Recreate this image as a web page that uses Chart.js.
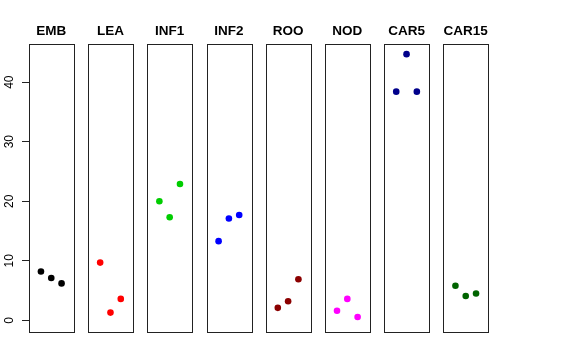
<!DOCTYPE html>
<html>
<head>
<meta charset="utf-8">
<script src="https://cdn.jsdelivr.net/npm/chart.js@4/dist/chart.umd.min.js"></script>
<style>
  html, body { margin: 0; padding: 0; background: #ffffff; }
  #wrap { position: relative; width: 576px; height: 360px; }
</style>
</head>
<body>
<div id="wrap"><canvas id="c" width="576" height="360"></canvas></div>
<script>
// ---- data ----
const categories = ['EMB', 'LEA', 'INF1', 'INF2', 'ROO', 'NOD', 'CAR5', 'CAR15'];
const EMB   = [8.2, 7.1, 6.2];
const LEA   = [9.7, 1.3, 3.6];
const INF1  = [20.0, 17.3, 22.9];
const INF2  = [13.3, 17.1, 17.7];
const ROO   = [2.1, 3.2, 6.9];
const NOD   = [1.6, 3.6, 0.55];
const CAR5  = [38.4, 44.7, 38.4];
const CAR15 = [5.8, 4.1, 4.5];
const seriesValues = [EMB, LEA, INF1, INF2, ROO, NOD, CAR5, CAR15];
const yTickValues = [0, 10, 20, 30, 40];

// ---- style ----
const colors = ['#000000', '#FF0000', '#00CD00', '#0000FF', '#8B0000', '#FF00FF', '#00008B', '#006400'];
const FONT = '"Liberation Sans", Arial, Helvetica, sans-serif';
const PANEL_STEP = 5.747;      // panel pitch in x units
const PANEL_LO = -0.16, PANEL_HI = 4.16; // local x range of a panel
const Y_MIN = -1.79, Y_MAX = 46.49;

const datasets = seriesValues.map((vals, i) => ({
  label: categories[i],
  data: vals.map((v, j) => ({ x: i * PANEL_STEP + (j + 1), y: v })),
  backgroundColor: colors[i],
  borderColor: colors[i],
  pointRadius: 3.3,
  pointHoverRadius: 3.3,
  pointBorderWidth: 0,
  showLine: false
}));

const panelPlugin = {
  id: 'panels',
  afterDraw(chart) {
    const ctx = chart.ctx;
    const xs = chart.scales.x, ys = chart.scales.y;
    const top = chart.chartArea.top, bottom = chart.chartArea.bottom;
    ctx.save();
    // panel boxes and titles
    categories.forEach((name, i) => {
      const l = xs.getPixelForValue(i * PANEL_STEP + PANEL_LO);
      const r = xs.getPixelForValue(i * PANEL_STEP + PANEL_HI);
      ctx.strokeStyle = '#222222';
      ctx.lineWidth = 1;
      ctx.strokeRect(Math.round(l) + 0.5, Math.round(top) + 0.5, Math.round(r - l), Math.round(bottom - top));
      ctx.fillStyle = '#000000';
      ctx.font = 'bold 13.5px ' + FONT;
      ctx.textAlign = 'center';
      ctx.textBaseline = 'alphabetic';
      ctx.fillText(name, (l + r) / 2, 34.5);
    });
    // rotated y tick labels
    ctx.font = '12px ' + FONT;
    ctx.fillStyle = '#000000';
    ys.ticks.forEach(t => {
      const y = ys.getPixelForValue(t.value);
      ctx.save();
      ctx.translate(12.5, y);
      ctx.rotate(-Math.PI / 2);
      ctx.textAlign = 'center';
      ctx.textBaseline = 'alphabetic';
      ctx.fillText(String(t.value), 0, 0);
      ctx.restore();
    });
    ctx.restore();
  }
};

new Chart(document.getElementById('c'), {
  type: 'scatter',
  data: { datasets },
  options: {
    responsive: false,
    animation: false,
    devicePixelRatio: 1,
    layout: { padding: { left: 0, right: 88, top: 43.5, bottom: 29 } },
    plugins: { legend: { display: false }, tooltip: { enabled: false }, title: { display: false } },
    scales: {
      x: {
        type: 'linear',
        display: false,
        min: PANEL_LO,
        max: (categories.length - 1) * PANEL_STEP + PANEL_HI
      },
      y: {
        type: 'linear',
        min: Y_MIN,
        max: Y_MAX,
        afterFit(scale) { scale.width = 29; },
        afterBuildTicks(scale) { scale.ticks = yTickValues.map(v => ({ value: v })); },
        ticks: { display: false, includeBounds: false },
        grid: { drawOnChartArea: false, drawTicks: true, tickLength: 7, color: '#222222', lineWidth: 1 },
        border: { display: false }
      }
    }
  },
  plugins: [panelPlugin]
});
</script>
</body>
</html>
